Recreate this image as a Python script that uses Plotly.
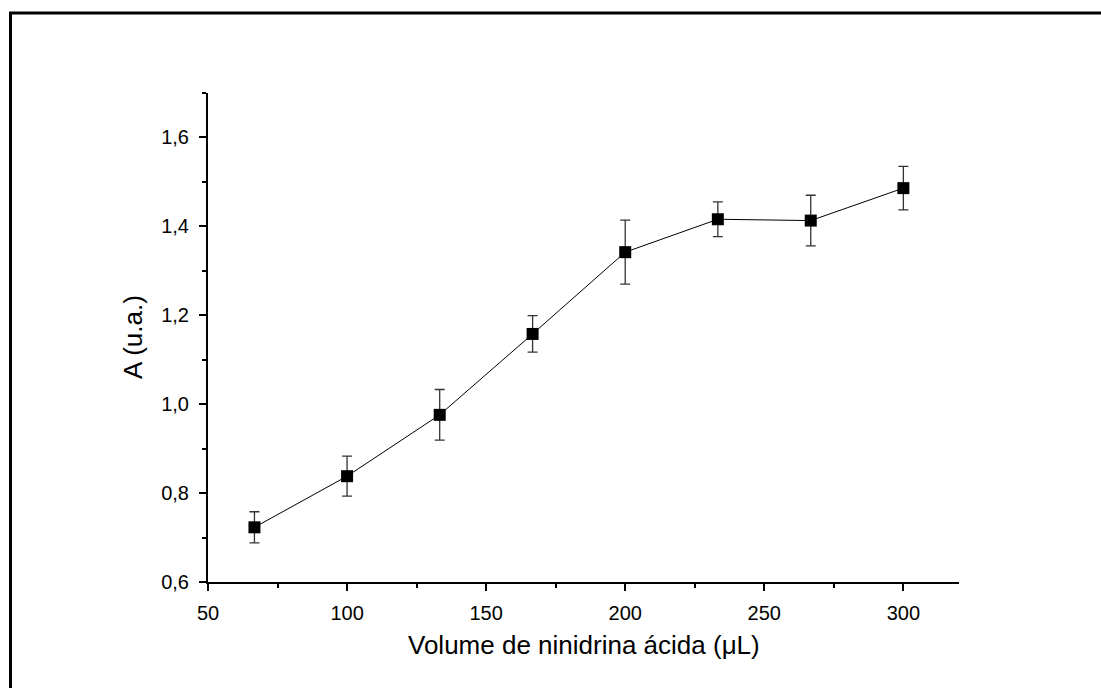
import plotly.graph_objects as go

volume = [66.7, 100, 133.3, 166.7, 200, 233.3, 266.7, 300]
absorbance = [0.723, 0.838, 0.976, 1.158, 1.342, 1.416, 1.413, 1.486]
error = [0.035, 0.045, 0.057, 0.041, 0.072, 0.039, 0.057, 0.049]

x_ticks = [50, 100, 150, 200, 250, 300]
y_ticks = [0.6, 0.8, 1.0, 1.2, 1.4, 1.6]

FONT = "Liberation Sans, Arial, sans-serif"

fig = go.Figure()
fig.add_trace(go.Scatter(
    x=volume, y=absorbance, mode="lines+markers",
    line=dict(color="black", width=1),
    marker=dict(symbol="square", size=12, color="black"),
    error_y=dict(type="data", array=error, visible=True, color="#333333",
                 thickness=1.3, width=5),
    showlegend=False,
))

L, R, T, B = 208, 142, 93, 106
W, H = 1101, 688
pw, ph = W - L - R, H - T - B

fig.update_layout(
    width=W, height=H,
    margin=dict(l=L, r=R, t=T, b=B),
    paper_bgcolor="white", plot_bgcolor="white",
    separators=",.",
    font=dict(family=FONT, color="black"),
    xaxis=dict(range=[50, 320], tickvals=x_ticks, ticks="outside", ticklen=7,
               tickwidth=2, tickcolor="black", showline=True, linewidth=2,
               linecolor="black", showgrid=False, zeroline=False,
               tickfont=dict(size=20, family=FONT), ticklabelstandoff=5,
               minor=dict(ticks="outside", ticklen=4, tickwidth=2,
                          tickcolor="black", dtick=25, tick0=75, showgrid=False)),
    yaxis=dict(range=[0.6, 1.7], tickvals=y_ticks, tickformat=".1f",
               ticks="outside", ticklen=7, tickwidth=2, tickcolor="black",
               showline=True, linewidth=2, linecolor="black", showgrid=False,
               zeroline=False, tickfont=dict(size=20, family=FONT),
               ticklabelstandoff=6,
               minor=dict(ticks="outside", ticklen=4, tickwidth=2,
                          tickcolor="black", dtick=0.1, tick0=0.7, showgrid=False)),
    annotations=[
        dict(text="Volume de ninidrina ácida (μL)", xref="paper", yref="paper",
             x=(584 - L) / pw, y=(H - B - 645) / ph, showarrow=False,
             font=dict(size=26, family=FONT), xanchor="center", yanchor="middle"),
        dict(text="A (u.a.)", xref="paper", yref="paper",
             x=(133 - L) / pw, y=(H - B - 337) / ph, showarrow=False, textangle=-90,
             font=dict(size=26, family=FONT), xanchor="center", yanchor="middle"),
    ],
    shapes=[
        dict(type="rect", xref="paper", yref="paper",
             x0=(10.5 - L) / pw, x1=(W + 10 - L) / pw,
             y0=(H - B - (H + 10)) / ph, y1=(H - B - 13) / ph,
             line=dict(color="black", width=3), fillcolor="rgba(0,0,0,0)"),
    ],
)

fig.write_html("out.html")
